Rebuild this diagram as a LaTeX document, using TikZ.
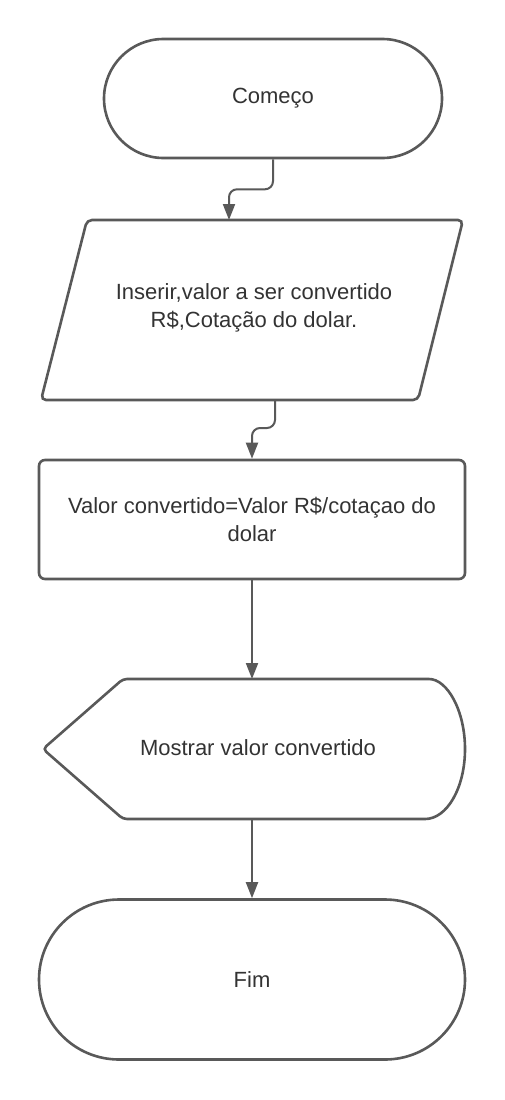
\documentclass[tikz,border=0pt]{standalone}
\usepackage{fontspec}
\setmainfont{Liberation Sans}
\usetikzlibrary{arrows.meta,shapes.misc,calc}
\definecolor{stroke}{HTML}{595959}
\definecolor{txt}{HTML}{333333}
\tikzset{
  shapeline/.style={draw=stroke, line width=2.6pt, fill=white},
  label/.style={text=txt, font=\fontsize{22}{28}\selectfont, align=center, inner sep=0pt},
  box/.style={inner sep=0pt, outer sep=0pt},
  arr/.style={draw=stroke, line width=2pt, -{Triangle[length=16pt,width=12pt]}},
}
\begin{document}
\begin{tikzpicture}[x=1pt,y=-1pt]
\useasboundingbox[fill=white] (0,0) rectangle (505,1100);

% Start terminator
\node[shapeline, rounded rectangle, minimum width=338pt, minimum height=119pt, label] (start) at (273,98.5) {Começo};

% Input parallelogram
\node[box, minimum width=422pt, minimum height=180pt] (inbox) at (252,310) {};
\draw[shapeline, rounded corners=5pt]
  ($(inbox.north west)+(46,0)$) -- (inbox.north east) -- ($(inbox.south east)+(-45,0)$) -- (inbox.south west) -- cycle;
\node[label] (in) at ($(inbox.center)+(2,-2)$) {Inserir,valor a ser convertido\\R\$,Cotação do dolar.};

% Process
\node[shapeline, rounded corners=6pt, minimum width=426pt, minimum height=119pt, label] (proc) at (252,519.5) {Valor convertido=Valor R\$/cotaçao do\\dolar};

% Display
\node[box, minimum width=422pt, minimum height=140pt] (dispbox) at (254,749) {};
\draw[shapeline, rounded corners=4pt]
  (dispbox.west) -- ($(dispbox.north west)+(80,0)$) -- ($(dispbox.north east)+(-40,0)$)
  [sharp corners] arc[start angle=-90, end angle=90, x radius=40, y radius=70]
  [rounded corners=4pt] -- ($(dispbox.south west)+(80,0)$) -- cycle;
\node[label] (disp) at ($(dispbox.center)+(4,-1)$) {Mostrar valor convertido};

% End terminator
\node[shapeline, rounded rectangle, minimum width=426pt, minimum height=160pt, label] (fim) at (252,979.5) {Fim};

% Connectors
\draw[arr, rounded corners=8pt] (start.south) -- ++(0,30) -| ($(inbox.north)+(-23,0)$);
\draw[arr, rounded corners=8pt] ($(inbox.south)+(23,0)$) -- ++(0,28) -| (proc.north);
\draw[arr] (proc.south) -- (proc.south |- dispbox.north);
\draw[arr] (proc.south |- dispbox.south) -- (fim.north);
\end{tikzpicture}
\end{document}
